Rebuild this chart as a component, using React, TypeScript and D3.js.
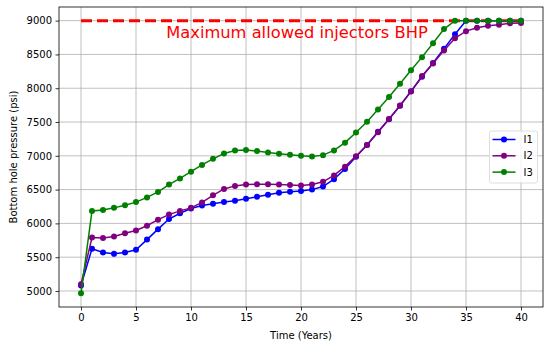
import { useEffect, useRef } from "react";
import * as d3 from "d3";

const years = d3.range(0, 41);

const i1 = [
  5080, 5625, 5570, 5550, 5570, 5610, 5760, 5915, 6065, 6150, 6220, 6265, 6290, 6315, 6335,
  6365, 6395, 6425, 6455, 6470, 6480, 6500, 6545, 6655, 6805, 6985, 7160, 7355, 7540, 7740,
  7955, 8170, 8375, 8585, 8800, 9000, 9000, 9000, 9000, 9000, 9000,
];
const i2 = [
  5100, 5790, 5785, 5805, 5855, 5895, 5965, 6055, 6130, 6185, 6230, 6310, 6415, 6510, 6555,
  6575, 6580, 6580, 6575, 6570, 6560, 6575, 6615, 6710, 6840, 6995, 7160, 7350, 7545, 7745,
  7950, 8180, 8365, 8560, 8740, 8845, 8895, 8925, 8940, 8960, 8965,
];
const i3 = [
  4965, 6185, 6200, 6230, 6270, 6315, 6385, 6465, 6575, 6665, 6765, 6865, 6955, 7035, 7080,
  7085, 7070, 7050, 7030, 7015, 7000, 6990, 7010, 7080, 7195, 7345, 7505, 7685, 7870, 8065,
  8265, 8460, 8665, 8875, 9000, 9000, 9000, 9000, 9000, 9000, 9000,
];

const seriesNames = ["I1", "I2", "I3"];
const seriesColors = ["blue", "purple", "green"];
const seriesValues = [i1, i2, i3];

const maxBhp = 9000;
const maxLabel = "Maximum allowed injectors BHP";
const xTicks = [0, 5, 10, 15, 20, 25, 30, 35, 40];
const yTicks = [5000, 5500, 6000, 6500, 7000, 7500, 8000, 8500, 9000];

export default function App() {
  const svgRef = useRef<SVGSVGElement>(null);

  useEffect(() => {
    if (!svgRef.current) return;
    const width = 550;
    const height = 345;
    const left = 59, right = 543, top = 7, bottom = 307;
    const font = "DejaVu Sans, sans-serif";

    const svg = d3.select(svgRef.current);
    svg.selectAll("*").remove();
    svg.attr("width", width).attr("height", height).style("background", "#fff");

    const x = d3.scaleLinear().domain([-2, 42]).range([left, right]);
    const y = d3.scaleLinear().domain([4763, 9202]).range([bottom, top]);

    // grid
    const grid = svg.append("g").attr("stroke", "#b0b0b0").attr("stroke-width", 0.8);
    xTicks.forEach((t) => {
      grid.append("line").attr("x1", x(t)).attr("x2", x(t)).attr("y1", top).attr("y2", bottom);
    });
    yTicks.forEach((t) => {
      grid.append("line").attr("x1", left).attr("x2", right).attr("y1", y(t)).attr("y2", y(t));
    });

    // axes
    const xAxis = svg
      .append("g")
      .attr("transform", `translate(0,${bottom})`)
      .call(d3.axisBottom(x).tickValues(xTicks).tickSize(3.5).tickPadding(3.5));
    const yAxis = svg
      .append("g")
      .attr("transform", `translate(${left},0)`)
      .call(d3.axisLeft(y).tickValues(yTicks).tickSize(3.5).tickPadding(3.5).tickFormat(d3.format("d")));
    [xAxis, yAxis].forEach((a) => {
      a.select(".domain").remove();
      a.selectAll("line").attr("stroke", "#000").attr("stroke-width", 0.8);
      a.selectAll("text").attr("font-family", font).attr("font-size", 10).attr("fill", "#000");
    });

    // max BHP line
    svg
      .append("line")
      .attr("x1", x(0))
      .attr("x2", x(40))
      .attr("y1", y(maxBhp))
      .attr("y2", y(maxBhp))
      .attr("stroke", "red")
      .attr("stroke-width", 3)
      .attr("stroke-dasharray", "11,5");

    const line = d3
      .line<number>()
      .x((_, i) => x(years[i]))
      .y((d) => y(d));

    seriesValues.forEach((vals, k) => {
      const g = svg.append("g");
      g.append("path")
        .attr("d", line(vals))
        .attr("fill", "none")
        .attr("stroke", seriesColors[k])
        .attr("stroke-width", 1.5);
      g.selectAll("circle")
        .data(vals)
        .enter()
        .append("circle")
        .attr("cx", (_, i) => x(years[i]))
        .attr("cy", (d) => y(d))
        .attr("r", 3)
        .attr("fill", seriesColors[k]);
    });

    // annotation
    svg
      .append("text")
      .attr("x", x(7.75))
      .attr("y", y(8745))
      .attr("font-family", font)
      .attr("font-size", 16.3)
      .attr("fill", "red")
      .text(maxLabel);

    // frame
    svg
      .append("rect")
      .attr("x", left)
      .attr("y", top)
      .attr("width", right - left)
      .attr("height", bottom - top)
      .attr("fill", "none")
      .attr("stroke", "#000")
      .attr("stroke-width", 0.8);

    // axis labels
    svg
      .append("text")
      .attr("x", (left + right) / 2)
      .attr("y", 339)
      .attr("text-anchor", "middle")
      .attr("font-family", font)
      .attr("font-size", 10)
      .text("Time (Years)");
    svg
      .append("text")
      .attr("transform", `translate(17,${(top + bottom) / 2}) rotate(-90)`)
      .attr("text-anchor", "middle")
      .attr("font-family", font)
      .attr("font-size", 10)
      .text("Bottom hole pressure (psi)");

    // legend
    const lg = svg.append("g").attr("transform", "translate(489.5,131)");
    lg.append("rect")
      .attr("width", 48)
      .attr("height", 52)
      .attr("rx", 2)
      .attr("fill", "#fff")
      .attr("fill-opacity", 0.8)
      .attr("stroke", "#d6d6d6")
      .attr("stroke-width", 0.8);
    seriesNames.forEach((name, k) => {
      const yy = 8.5 + k * 16.3;
      lg.append("line")
        .attr("x1", 3)
        .attr("x2", 26)
        .attr("y1", yy)
        .attr("y2", yy)
        .attr("stroke", seriesColors[k])
        .attr("stroke-width", 1.5);
      lg.append("circle").attr("cx", 14.5).attr("cy", yy).attr("r", 3).attr("fill", seriesColors[k]);
      lg.append("text")
        .attr("x", 34)
        .attr("y", yy + 3.6)
        .attr("font-family", font)
        .attr("font-size", 10)
        .text(name);
    });
  }, []);

  return (
    <div style={{ position: "fixed", left: 0, top: 0 }}>
      <svg ref={svgRef} width={550} height={345} />
    </div>
  );
}
